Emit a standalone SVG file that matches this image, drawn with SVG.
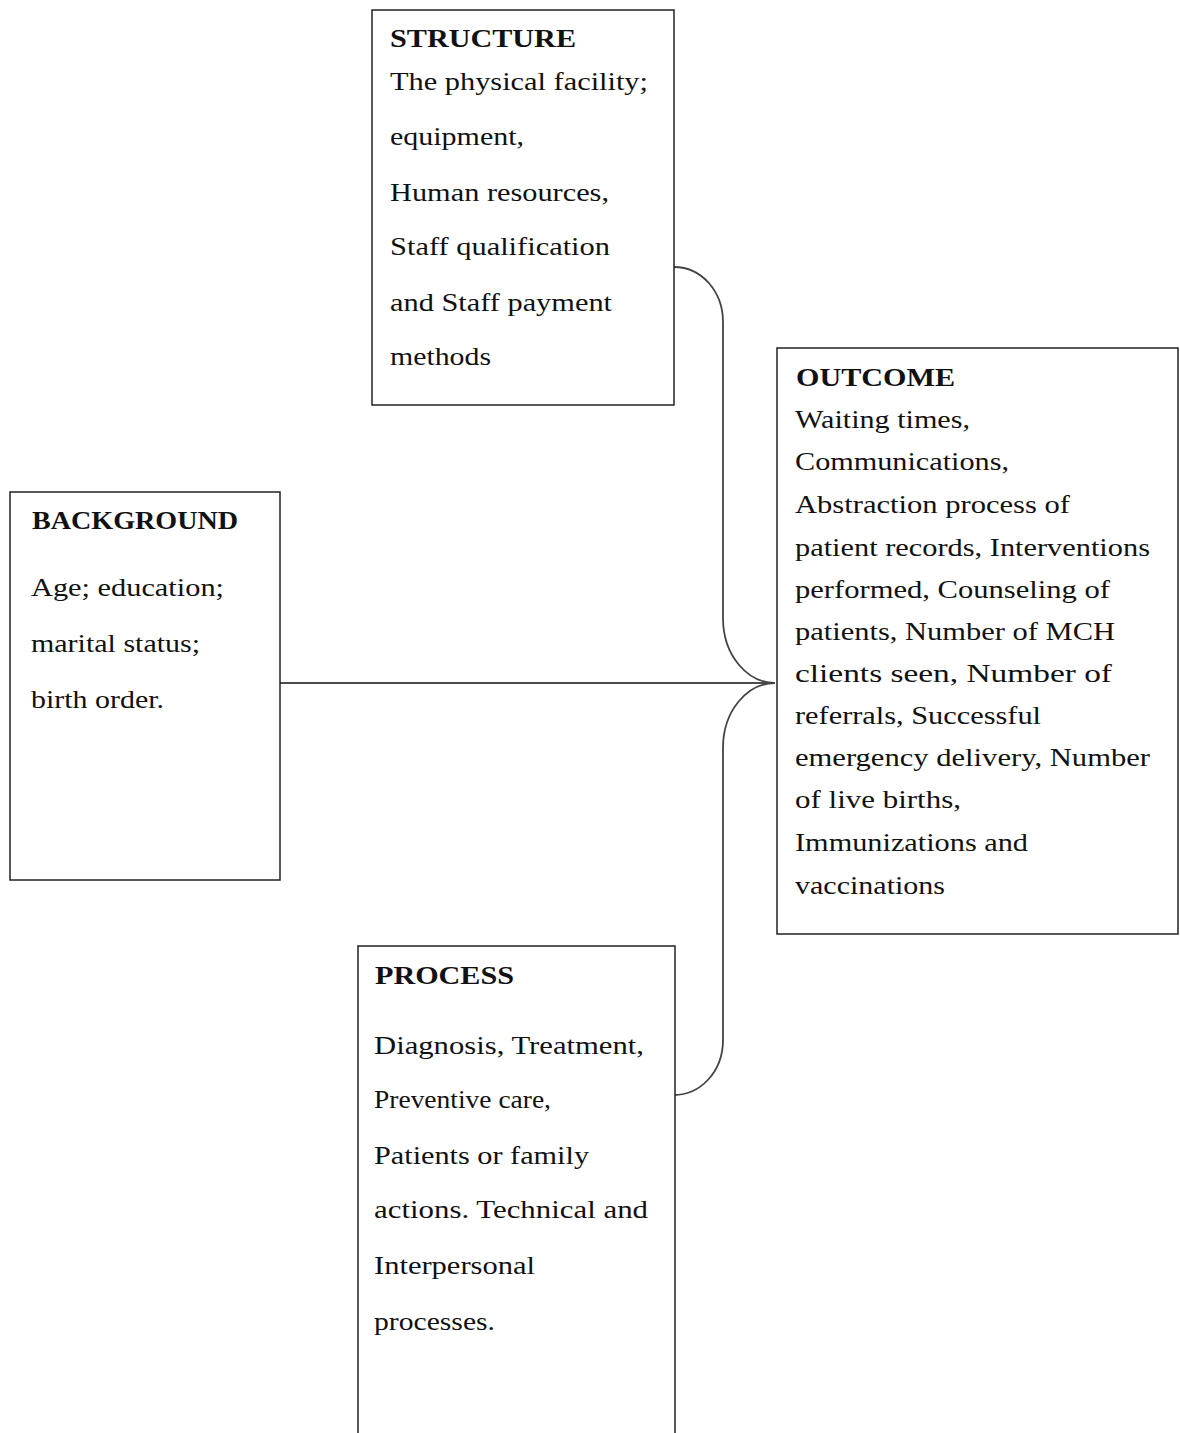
<svg xmlns="http://www.w3.org/2000/svg" width="1180" height="1433" viewBox="0 0 1180 1433">
<style>
.box{fill:#fff;stroke:#222;stroke-width:1.5}
.t{font-family:"Liberation Serif","Times New Roman",serif;font-size:25px;fill:#111}
.h{font-weight:bold}
.c{fill:none;stroke:#444;stroke-width:1.8}
</style>
<rect width="1180" height="1433" fill="#fff"/>
<g id="connectors">
<path class="c" d="M280,683 L775,683" style="stroke:#111;stroke-width:1.6"/>
<path class="c" d="M674,267 C702,267 723,292 723,322 L723,618 C723,656 748,683 775,683"/>
<path class="c" d="M775,683 C748,683 723,710 723,748 L723,1040 C723,1072 700,1095 674,1095"/>
</g>
<g id="structure">
<rect class="box" x="372" y="10" width="302" height="395"/>
<text class="t h" x="390" y="47" textLength="186" lengthAdjust="spacingAndGlyphs">STRUCTURE</text>
<text class="t" x="390" y="90" textLength="258" lengthAdjust="spacingAndGlyphs">The physical facility;</text>
<text class="t" x="390" y="145" textLength="134" lengthAdjust="spacingAndGlyphs">equipment,</text>
<text class="t" x="390" y="201" textLength="219" lengthAdjust="spacingAndGlyphs">Human resources,</text>
<text class="t" x="390" y="255" textLength="220" lengthAdjust="spacingAndGlyphs">Staff qualification</text>
<text class="t" x="390" y="311" textLength="222" lengthAdjust="spacingAndGlyphs">and Staff payment</text>
<text class="t" x="390" y="365" textLength="101" lengthAdjust="spacingAndGlyphs">methods</text>
</g>
<g id="outcome">
<rect class="box" x="777" y="348" width="401" height="586"/>
<text class="t h" x="796" y="386" textLength="159" lengthAdjust="spacingAndGlyphs">OUTCOME</text>
<text class="t" x="795" y="428" textLength="175" lengthAdjust="spacingAndGlyphs">Waiting times,</text>
<text class="t" x="795" y="470" textLength="214" lengthAdjust="spacingAndGlyphs">Communications,</text>
<text class="t" x="795" y="513" textLength="275" lengthAdjust="spacingAndGlyphs">Abstraction process of</text>
<text class="t" x="795" y="556" textLength="355" lengthAdjust="spacingAndGlyphs">patient records, Interventions</text>
<text class="t" x="795" y="598" textLength="315" lengthAdjust="spacingAndGlyphs">performed, Counseling of</text>
<text class="t" x="795" y="640" textLength="320" lengthAdjust="spacingAndGlyphs">patients, Number of MCH</text>
<text class="t" x="795" y="682" textLength="317" lengthAdjust="spacingAndGlyphs">clients seen, Number of</text>
<text class="t" x="795" y="724" textLength="246" lengthAdjust="spacingAndGlyphs">referrals, Successful</text>
<text class="t" x="795" y="766" textLength="355" lengthAdjust="spacingAndGlyphs">emergency delivery, Number</text>
<text class="t" x="795" y="808" textLength="166" lengthAdjust="spacingAndGlyphs">of live births,</text>
<text class="t" x="795" y="851" textLength="233" lengthAdjust="spacingAndGlyphs">Immunizations and</text>
<text class="t" x="795" y="894" textLength="150" lengthAdjust="spacingAndGlyphs">vaccinations</text>
</g>
<g id="background">
<rect class="box" x="10" y="492" width="270" height="388"/>
<text class="t h" x="32" y="529" textLength="206" lengthAdjust="spacingAndGlyphs">BACKGROUND</text>
<text class="t" x="31" y="596" textLength="193" lengthAdjust="spacingAndGlyphs">Age; education;</text>
<text class="t" x="31" y="652" textLength="169" lengthAdjust="spacingAndGlyphs">marital status;</text>
<text class="t" x="31" y="708" textLength="133" lengthAdjust="spacingAndGlyphs">birth order.</text>
</g>
<g id="process">
<rect class="box" x="358" y="946" width="317" height="520"/>
<text class="t h" x="375" y="984" textLength="139" lengthAdjust="spacingAndGlyphs">PROCESS</text>
<text class="t" x="374" y="1054" textLength="270" lengthAdjust="spacingAndGlyphs">Diagnosis, Treatment,</text>
<text class="t" x="374" y="1108" textLength="177" lengthAdjust="spacingAndGlyphs">Preventive care,</text>
<text class="t" x="374" y="1164" textLength="215" lengthAdjust="spacingAndGlyphs">Patients or family</text>
<text class="t" x="374" y="1218" textLength="274" lengthAdjust="spacingAndGlyphs">actions. Technical and</text>
<text class="t" x="374" y="1274" textLength="161" lengthAdjust="spacingAndGlyphs">Interpersonal</text>
<text class="t" x="374" y="1330" textLength="121" lengthAdjust="spacingAndGlyphs">processes.</text>
</g>
</svg>
